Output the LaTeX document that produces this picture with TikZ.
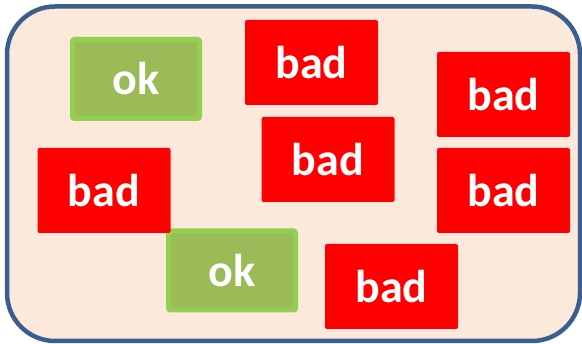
\documentclass[tikz,border=0pt]{standalone}
\usepackage{fontspec}
\setmainfont{Carlito}
\definecolor{frameBlue}{HTML}{3A5F8E}
\definecolor{peach}{HTML}{FDE9DB}
\definecolor{badRed}{HTML}{FF0000}
\definecolor{okFill}{HTML}{9BBB59}
\definecolor{okEdge}{HTML}{92D050}

\begin{document}
\begin{tikzpicture}[
    x=1pt, y=-1pt,
    badbox/.style={fill=badRed, rounded corners=2pt, minimum width=133pt,
        minimum height=85pt, inner sep=0pt, text=white,
        font=\fontsize{46}{50}\selectfont\bfseries},
    okbox/.style={fill=okFill, draw=okEdge, line width=5pt, rounded corners=2pt,
        minimum width=127pt, minimum height=79pt, inner sep=0pt, text=white,
        font=\fontsize{46}{50}\selectfont\bfseries},
]
\useasboundingbox (0,0) rectangle (582,344);

% Outer frame
\draw[frameBlue, fill=peach, line width=4.5pt, rounded corners=48pt]
    (7,6.5) rectangle (580,341);

% Good boxes
\node[okbox] (okTop) at (136,79) {ok};
\node[okbox] (okBottom) at (232,270.5) {ok};

% Bad boxes
\node[badbox] (badTop) at (311.5,62.5) {bad};
\node[badbox] (badMid) at (328,159.5) {bad};
\node[badbox] (badLeft) at (104,190.5) {bad};
\node[badbox] (badRightA) at (503.5,94.5) {bad};
\node[badbox] (badRightB) at (503.5,190.5) {bad};
\node[badbox] (badBottom) at (391.5,286.5) {bad};

\end{tikzpicture}
\end{document}
